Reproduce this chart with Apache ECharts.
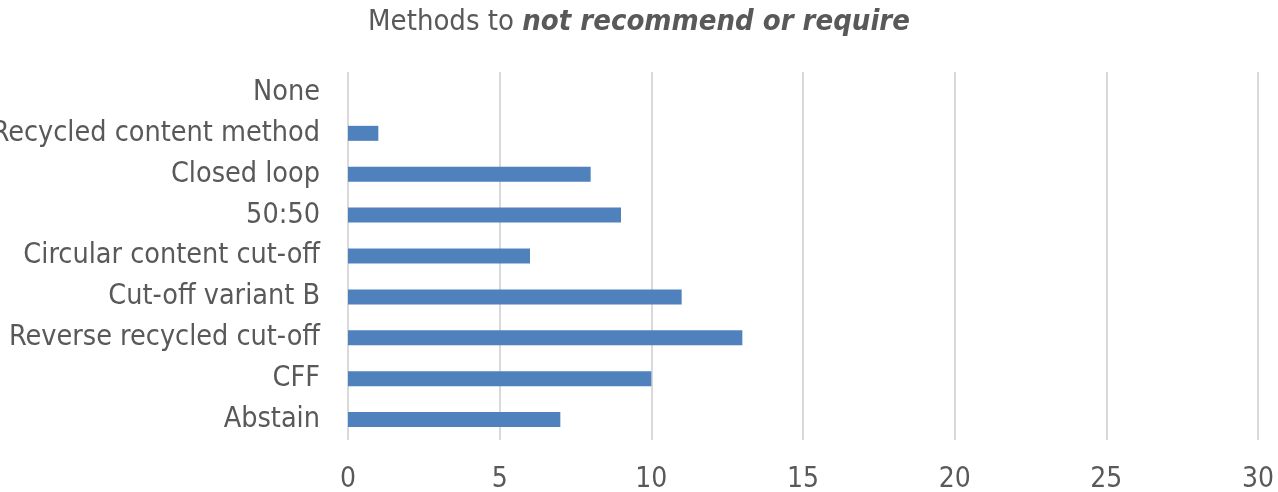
<!DOCTYPE html>
<html><head><meta charset="utf-8">
<script src="https://cdn.jsdelivr.net/npm/echarts@6/dist/echarts.min.js"></script>
<style>html,body{margin:0;padding:0;background:#fff}#c{width:1278px;height:492px}</style>
</head><body><div id="c"></div>
<script>
const categories = ["Abstain","CFF","Reverse recycled cut-off","Cut-off variant B","Circular content cut-off","50:50","Closed loop","Recycled content method","None"];
const values = [7,10,13,11,6,9,8,1,0];
const xTicks = {min:0, max:30, interval:5};
const titleMain = "Methods to ";
const titleEmph = "not recommend or require";

const FONT = "'DejaVu Sans Condensed', 'DejaVu Sans', sans-serif";
const chart = echarts.init(document.getElementById('c'));
chart.setOption({
  animation:false,
  title:{
    text:'{a|'+titleMain+'}{b|'+titleEmph+'}',
    left:'center', top:3,
    textStyle:{fontWeight:'normal',rich:{
      a:{fontFamily:FONT,fontSize:29,color:'#595959',fontWeight:'normal'},
      b:{fontFamily:FONT,fontSize:29,color:'#595959',fontWeight:'bold',fontStyle:'italic'}
    }}
  },
  grid:{left:348,right:20,top:72,bottom:52,containLabel:false,outerBoundsMode:'none'},
  xAxis:{type:'value',min:xTicks.min,max:xTicks.max,interval:xTicks.interval,
    axisLine:{show:false},axisTick:{show:false},
    splitLine:{show:true,lineStyle:{color:'#D9D9D9',width:2}},
    axisLabel:{fontFamily:FONT,fontSize:28,color:'#595959',margin:26}},
  yAxis:{type:'category',data:categories,
    axisLine:{show:false},axisTick:{show:false},
    axisLabel:{fontFamily:FONT,fontSize:28.5,color:'#595959',margin:28}},
  series:[{type:'bar',data:values,barWidth:15,
    itemStyle:{color:'#4F81BD',borderColor:'#8EB4E3',borderWidth:0}}]
});
</script></body></html>
